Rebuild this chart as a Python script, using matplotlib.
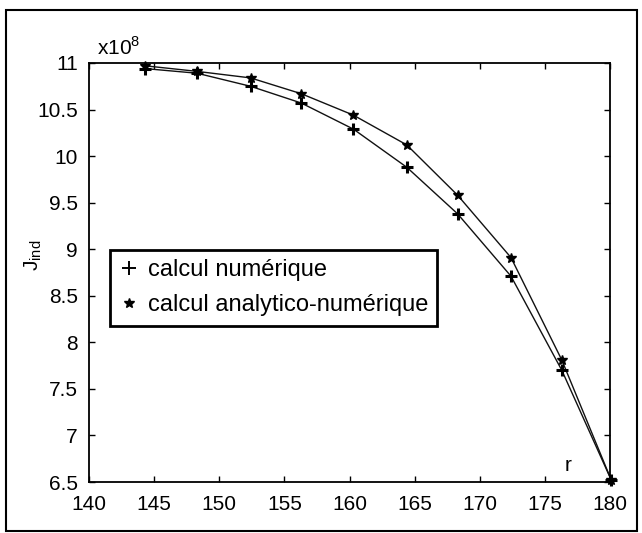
import matplotlib
matplotlib.use("Agg")
import matplotlib.pyplot as plt
from matplotlib.lines import Line2D
from matplotlib.patches import Rectangle

plt.rcParams['font.family'] = ['Liberation Sans', 'DejaVu Sans']
plt.rcParams['mathtext.fontset'] = 'custom'
plt.rcParams['mathtext.rm'] = 'Liberation Sans'

r = [144.3, 148.3, 152.4, 156.3, 160.3, 164.4, 168.3, 172.4, 176.3, 180.1]
j_num = [10.94, 10.89, 10.75, 10.57, 10.29, 9.88, 9.38, 8.71, 7.70, 6.52]
j_ana = [10.97, 10.91, 10.84, 10.67, 10.44, 10.12, 9.58, 8.91, 7.81, 6.52]
xticks = [140, 145, 150, 155, 160, 165, 170, 175, 180]
yticks = [6.5, 7, 7.5, 8, 8.5, 9, 9.5, 10, 10.5, 11]
ytick_labels = ['6.5', '7', '7.5', '8', '8.5', '9', '9.5', '10', '10.5', '11']

fig = plt.figure(figsize=(6.42, 5.33), dpi=100)
ax = fig.add_axes([89/642, 1-482/533, 521/642, 419/533])

ax.plot(r, j_num, color='#111111', lw=1.0, clip_on=False)
ax.plot(r, j_ana, color='#111111', lw=1.0, clip_on=False)
ax.plot(r, j_num, ls='none', marker='+', ms=8, mew=2.2, color='black', clip_on=False)
ax.plot(r, j_ana, ls='none', marker='*', ms=7, color='black', clip_on=False)

ax.set_xlim(140, 180)
ax.set_ylim(6.5, 11)
ax.set_xticks(xticks)
ax.set_yticks(yticks)
ax.set_yticklabels(ytick_labels)
ax.tick_params(direction='in', length=4, width=1, labelsize=15, top=True, right=True)
ax.tick_params(axis='x', pad=9)
ax.tick_params(axis='y', pad=8)
for s in ax.spines.values():
    s.set_linewidth(1.3)

ax.set_ylabel('J$_{\\mathregular{ind}}$', fontsize=15)
ax.yaxis.set_label_coords(-0.087, 0.54)
ax.text(0.015, 1.01, 'x10$^{\\mathregular{8}}$', transform=ax.transAxes, fontsize=15,
        ha='left', va='bottom')
ax.text(176.8, 6.57, 'r', fontsize=15, ha='center', va='bottom')

handles = [Line2D([], [], ls='none', marker='+', ms=10, mew=1.4, color='black'),
           Line2D([], [], ls='none', marker='*', ms=7, color='black')]
leg = ax.legend(handles, ['calcul numérique', 'calcul analytico-numérique'],
                loc='upper left', bbox_to_anchor=(0.040, 0.554), borderaxespad=0,
                fontsize=17, fancybox=False, framealpha=1, edgecolor='black',
                handlelength=0.8, handletextpad=0.4, labelspacing=0.55, borderpad=0.4)
leg.get_frame().set_linewidth(2)

fig.patches.append(Rectangle((6/642, 2/533), 631/642, 521/533, transform=fig.transFigure,
                             fill=False, edgecolor='black', lw=1.5))

fig.savefig('out.png', dpi=100)
